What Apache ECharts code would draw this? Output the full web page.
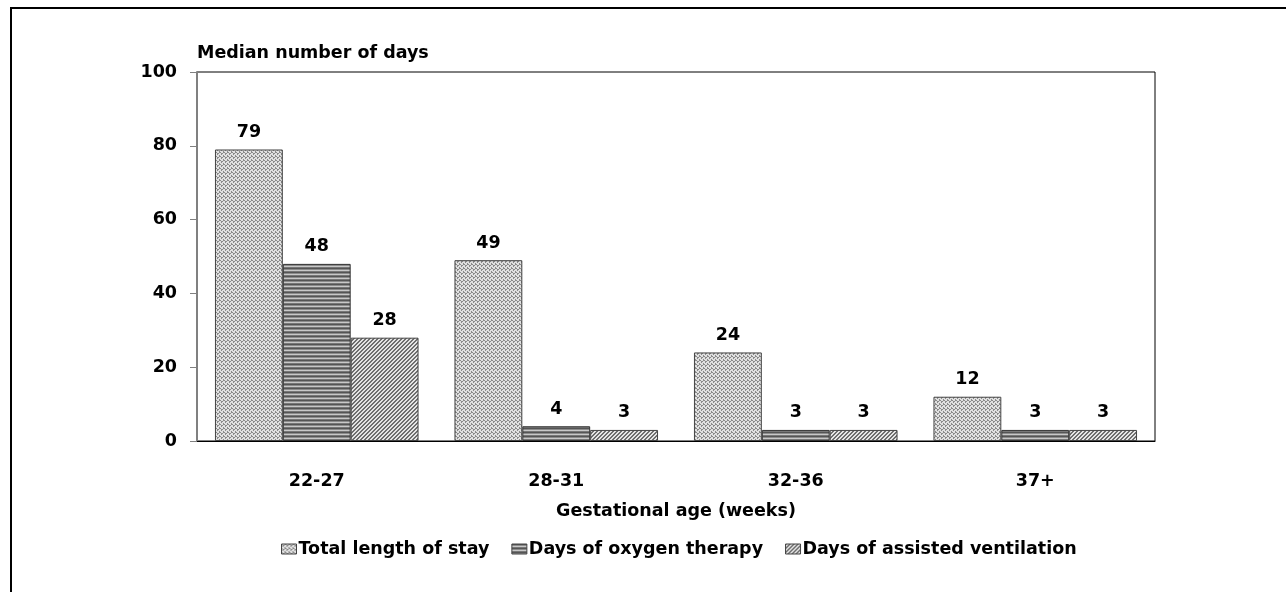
<!DOCTYPE html>
<html><head><meta charset="utf-8">
<script src="https://cdn.jsdelivr.net/npm/echarts@6/dist/echarts.min.js"></script>
<style>html,body{margin:0;padding:0;background:#fff}#c{width:1286px;height:592px}
#frame{position:absolute;left:10px;top:7px;right:0;bottom:0;border-top:2px solid #000;border-left:2px solid #000;pointer-events:none}</style>
</head><body><div id="c"></div><div id="frame"></div>
<script>
const categories = ['22-27', '28-31', '32-36', '37+'];
const totalStay = [79, 49, 24, 12];
const oxygenDays = [48, 4, 3, 3];
const ventilationDays = [28, 3, 3, 3];
const seriesNames = ['Total length of stay', 'Days of oxygen therapy', 'Days of assisted ventilation'];
const yTicks = [0, 20, 40, 60, 80, 100];

function pat(w, h, fn) {
  const c = document.createElement('canvas'); c.width = w; c.height = h;
  const ctx = c.getContext('2d'); fn(ctx, w, h); return c;
}
const stipple = pat(4, 4, (ctx) => {
  ctx.fillStyle = '#e0e0e0'; ctx.fillRect(0, 0, 4, 4);
  ctx.fillStyle = '#8a8a8a';
  [[0,0],[2,1],[1,2],[3,3],[3,0],[1,1]].forEach(p => ctx.fillRect(p[0], p[1], 1, 1));
});
const stripes = pat(4, 4, (ctx) => {
  const cols = ['#555555', '#8c8c8c', '#c8c8c8', '#777777'];
  cols.forEach((col, i) => { ctx.fillStyle = col; ctx.fillRect(0, i, 4, 1); });
});
const hatch = pat(4, 4, (ctx) => {
  ctx.fillStyle = '#e4e4e4'; ctx.fillRect(0, 0, 4, 4);
  ctx.fillStyle = '#6e6e6e';
  for (let i = 0; i < 4; i++) { ctx.fillRect((3 - i + 4) % 4, i, 1, 1); ctx.fillRect((4 - i) % 4, i, 1, 1); }
});

const font = 'DejaVu Sans';
const fs = 17.5;
const chart = echarts.init(document.getElementById('c'));
function mk(name, data, img, border) {
  return {
    name, type: 'bar', data, barGap: '0%', barCategoryGap: '15%',
    itemStyle: { color: { image: img, repeat: 'repeat' }, borderColor: border, borderWidth: 1 },
    label: { show: true, position: 'top', distance: 8, color: '#000', fontFamily: font, fontWeight: 'bold', fontSize: fs }
  };
}
chart.setOption({
  animation: false,
  grid: { left: 197, right: 131, top: 72, bottom: 151, show: true, borderColor: '#000', borderWidth: 1 },
  legend: {
    top: 535, left: 276, icon: 'rect', itemWidth: 15, itemHeight: 10, itemGap: 22,
    textStyle: { fontFamily: font, fontWeight: 'bold', fontSize: fs, color: '#000', padding: [0, 0, 0, -3] },
    itemStyle: { borderColor: '#444', borderWidth: 1 }
  },
  xAxis: {
    type: 'category', data: categories,
    name: 'Gestational age (weeks)', nameLocation: 'middle', nameGap: 61,
    nameTextStyle: { fontFamily: font, fontWeight: 'bold', fontSize: fs, color: '#000' },
    axisLine: { lineStyle: { color: '#000', width: 1 } },
    axisTick: { show: false },
    axisLabel: { fontFamily: font, fontWeight: 'bold', fontSize: fs, color: '#000', margin: 31 }
  },
  yAxis: {
    type: 'value', min: yTicks[0], max: yTicks[yTicks.length - 1], interval: 20,
    name: 'Median number of days', nameLocation: 'end', nameGap: 10,
    nameTextStyle: { fontFamily: font, fontWeight: 'bold', fontSize: fs, color: '#000', align: 'left' },
    axisLine: { show: true, lineStyle: { color: '#808080', width: 2 } },
    axisTick: { show: true, length: 7, inside: false, lineStyle: { color: '#808080' } },
    splitLine: { show: false },
    axisLabel: { fontFamily: font, fontWeight: 'bold', fontSize: fs, color: '#000', margin: 20 }
  },
  series: [
    mk(seriesNames[0], totalStay, stipple, '#444'),
    mk(seriesNames[1], oxygenDays, stripes, '#333'),
    mk(seriesNames[2], ventilationDays, hatch, '#444')
  ]
});
</script></body></html>
